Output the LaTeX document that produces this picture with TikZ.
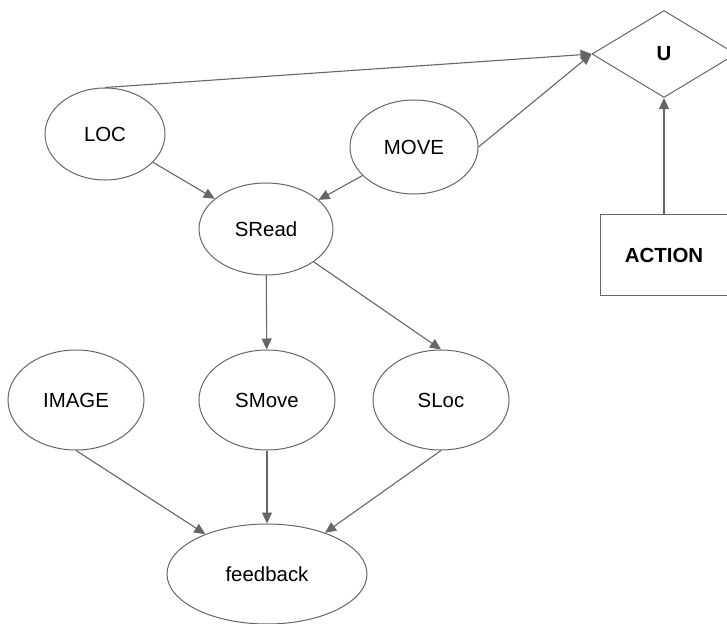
\documentclass[tikz,border=0pt]{standalone}
\usepackage{fontspec}
\setmainfont{Liberation Sans}
\usetikzlibrary{shapes.geometric,arrows.meta}
\definecolor{trait}{HTML}{666666}

\begin{document}
\begin{tikzpicture}[x=1bp,y=-1bp,
    font=\fontsize{20.5}{24}\selectfont,
    bulle/.style={ellipse,draw=trait,line width=1bp,inner sep=0pt,
      minimum width=136bp,minimum height=100bp},
    fleche/.style={draw=trait,line width=1.1bp,
      -{Triangle[length=11bp,width=10bp]}}]
    % cadre
    \useasboundingbox (0,0) rectangle (727,624);
    % noeuds
    \node[bulle,minimum width=120bp,minimum height=92bp] (loc) at (105,134) {LOC};
    \node[bulle,minimum width=128bp,minimum height=94bp] (move) at (414,147) {MOVE};
    \node[bulle,minimum width=134bp,minimum height=92bp] (sread) at (266,229) {SRead};
    \node[bulle] (image) at (76,400) {IMAGE};
    \node[bulle] (smove) at (267,400) {SMove};
    \node[bulle] (sloc) at (441,400) {SLoc};
    \node[bulle,minimum width=200bp] (feedback) at (267,574) {feedback};
    \node[diamond,draw=trait,line width=1bp,inner sep=0pt,
      minimum width=144bp,minimum height=87bp,font=\fontsize{20.5}{24}\selectfont\bfseries] (u) at (664,54) {U};
    \node[rectangle,draw=trait,line width=1bp,minimum width=128bp,minimum height=81bp,
      font=\fontsize{20.5}{24}\selectfont\bfseries] (action) at (664,255) {ACTION};
    % fleches
    \draw[fleche] (loc.north) -- (u.west);
    \draw[fleche] (move.east) -- (u.west);
    \draw[fleche] (action) -- (u);
    \draw[fleche] (loc) -- (sread);
    \draw[fleche] (move) -- (sread);
    \draw[fleche] (sread) -- (smove);
    \draw[fleche] (sread) -- (sloc.north);
    \draw[fleche] (image.south) -- (feedback);
    \draw[fleche] (smove) -- (feedback);
    \draw[fleche] (sloc.south) -- (feedback);
\end{tikzpicture}
\end{document}
